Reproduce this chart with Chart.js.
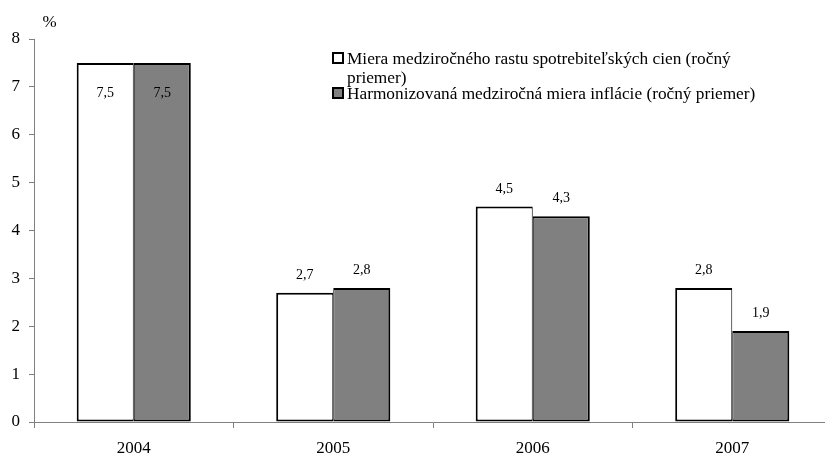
<!DOCTYPE html>
<html>
<head>
<meta charset="utf-8">
<script src="https://cdn.jsdelivr.net/npm/chart.js@4.4.0/dist/chart.umd.min.js"></script>
<style>
    body { margin: 0; background: #ffffff; overflow: hidden; }
    #wrap { width: 825px; height: 457px; overflow: hidden; }
</style>
</head>
<body>
<!-- plot area runs past the right edge in the original, so the canvas is a bit wider and clipped -->
<div id="wrap"><canvas id="inflationChart" width="832" height="457"></canvas></div>
<script>
// Chart data
const years = ["2004", "2005", "2006", "2007"];
const cpiValues = [7.5, 2.7, 4.5, 2.8];
const hicpValues = [7.5, 2.8, 4.3, 1.9];
const yTicks = [0, 1, 2, 3, 4, 5, 6, 7, 8];
const seriesNames = [
    "Miera medziročného rastu spotrebiteľských cien (ročný priemer)",
    "Harmonizovaná medziročná miera inflácie (ročný priemer)"
];

const serif = "'Liberation Serif', 'Times New Roman', serif";

// Value labels above bars (inside when the bar is too tall)
const valueLabels = {
    id: 'valueLabels',
    afterDatasetsDraw(chart) {
        const ctx = chart.ctx;
        ctx.save();
        ctx.font = "14px " + serif;
        ctx.fillStyle = "#000";
        ctx.textAlign = "center";
        ctx.textBaseline = "alphabetic";
        chart.data.datasets.forEach((ds, i) => {
            chart.getDatasetMeta(i).data.forEach((bar, j) => {
                const txt = ds.data[j].toFixed(1).replace('.', ',');
                let y = bar.y - 14;
                if (bar.y - chart.chartArea.top < 30) y = bar.y + 34;
                ctx.fillText(txt, bar.x, y);
            });
        });
        ctx.restore();
    }
};

// Unit label and wrapped legend
const extras = {
    id: 'extras',
    afterDraw(chart) {
        const ctx = chart.ctx;
        ctx.save();
        ctx.fillStyle = "#000";
        ctx.font = "17px " + serif;
        ctx.textBaseline = "alphabetic";
        ctx.fillText("%", 42.5, 27);

        ctx.font = "17.3px " + serif;
        const textX = 347;
        const maxW = 420;
        const itemBase = [63.5, 98.5];
        chart.data.datasets.forEach((ds, i) => {
            // wrap text
            const words = ds.label.split(' ');
            const lines = [];
            let line = "";
            words.forEach(w => {
                const test = line ? line + " " + w : w;
                if (ctx.measureText(test).width > maxW && line) {
                    lines.push(line);
                    line = w;
                } else {
                    line = test;
                }
            });
            lines.push(line);

            const baseY = itemBase[i];
            ctx.fillStyle = ds.backgroundColor;
            ctx.fillRect(333, baseY - 10.5, 10, 10);
            ctx.strokeStyle = "#000";
            ctx.lineWidth = 2;
            ctx.strokeRect(333, baseY - 10.5, 10, 10);

            ctx.fillStyle = "#000";
            lines.forEach((l, k) => {
                ctx.fillText(l, textX, baseY + k * 19.5);
            });
        });
        ctx.restore();
    }
};

new Chart(document.getElementById("inflationChart").getContext("2d"), {
    type: "bar",
    data: {
        labels: years,
        datasets: [
            {
                label: seriesNames[0],
                data: cpiValues,
                backgroundColor: "#ffffff",
                borderColor: "#000000",
                borderWidth: { top: 2, left: 2, bottom: 2, right: 1 },
                borderSkipped: false
            },
            {
                label: seriesNames[1],
                data: hicpValues,
                backgroundColor: "#808080",
                borderColor: "#000000",
                borderWidth: { top: 2, left: 1, bottom: 2, right: 2 },
                borderSkipped: false
            }
        ]
    },
    options: {
        responsive: false,
        animation: false,
        layout: { padding: { top: 39, right: 0, left: 0, bottom: 0 } },
        datasets: {
            bar: { categoryPercentage: 0.572, barPercentage: 1.0 }
        },
        plugins: {
            legend: { display: false },
            tooltip: { enabled: false }
        },
        scales: {
            x: {
                afterFit(scale) { scale.height = 35; },
                grid: {
                    drawOnChartArea: false,
                    drawTicks: true,
                    tickLength: 6,
                    color: "#808080",
                    offset: true
                },
                border: { color: "#808080", width: 1 },
                ticks: {
                    color: "#000",
                    font: { family: serif, size: 17 },
                    padding: 10
                }
            },
            y: {
                min: 0,
                max: 8,
                afterFit(scale) { scale.width = 34; },
                afterBuildTicks(scale) {
                    scale.ticks = yTicks.map(v => ({ value: v }));
                },
                grid: {
                    drawOnChartArea: false,
                    drawTicks: true,
                    tickLength: 5,
                    color: "#808080"
                },
                border: { color: "#808080", width: 1 },
                ticks: {
                    color: "#000",
                    font: { family: serif, size: 17 },
                    padding: 9
                }
            }
        }
    },
    plugins: [valueLabels, extras]
});
</script>
</body>
</html>
